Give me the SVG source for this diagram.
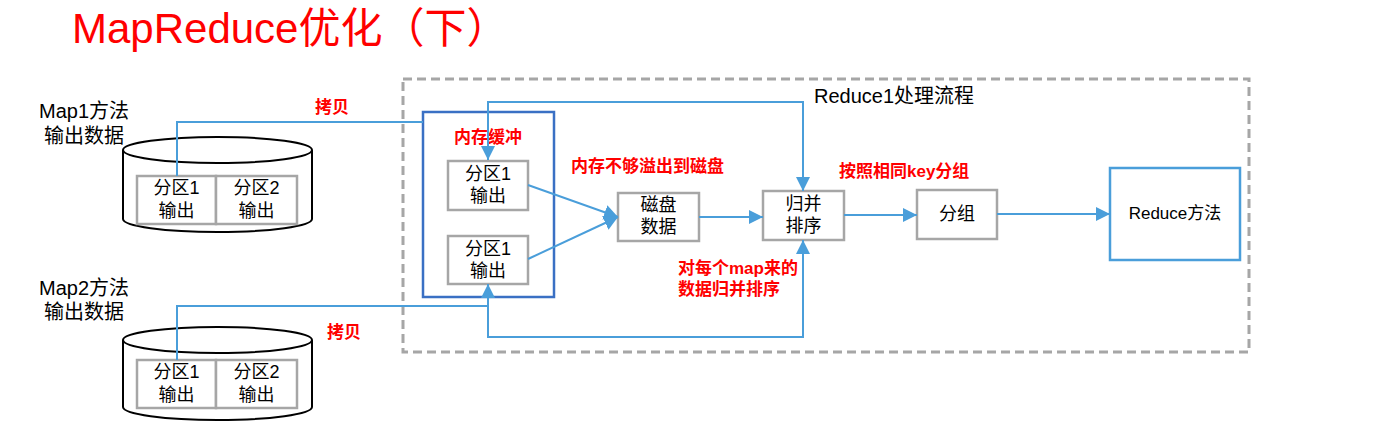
<svg xmlns="http://www.w3.org/2000/svg" width="1396" height="442" viewBox="0 0 1396 442">
<style>
text{font-family:"Liberation Sans","Noto Sans CJK SC",sans-serif;fill:#000}
.t{font-size:20px}
.b{font-size:18px;text-anchor:middle}
.r{font-size:17px;font-weight:bold;fill:#FF0000}
.gbox{fill:#fff;stroke:#A6A6A6;stroke-width:2.5}
.cyl{fill:#fff;stroke:#000;stroke-width:2}
.ln{fill:none;stroke:#4A9EDA;stroke-width:2}
</style>
<defs>
<marker id="ah" markerUnits="userSpaceOnUse" markerWidth="14" markerHeight="14" refX="12" refY="6" orient="auto-start-reverse" viewBox="0 0 12 12">
<path d="M0,0 L12,6 L0,12 z" fill="#4A9EDA"/>
</marker>
<marker id="ahb" markerUnits="userSpaceOnUse" markerWidth="16" markerHeight="16" refX="14" refY="8" orient="auto" viewBox="0 0 16 16">
<path d="M0,0.5 L14,8 L0,15.5 z" fill="#4A9EDA"/>
</marker>
</defs>
<rect width="1396" height="442" fill="#fff"/>
<text x="72" y="43" style="font-size:42px;fill:#FF0000">MapReduce优化（下）</text>

<g id="reduce-area">
<rect x="403" y="79" width="846" height="273" fill="none" stroke="#A6A6A6" stroke-width="3" stroke-dasharray="9 5"/>
<text class="t" x="814" y="103">Reduce1处理流程</text>
</g>

<g id="map1">
<text class="t" x="84" y="118" text-anchor="middle">Map1方法</text>
<text class="t" x="84" y="143" text-anchor="middle">输出数据</text>
<path class="cyl" d="M123,150 L123,219 A94.5,13 0 0 0 312,219 L312,150"/>
<ellipse class="cyl" cx="217.5" cy="150" rx="94.5" ry="13"/>
<rect class="gbox" x="137" y="176" width="79" height="48"/>
<rect class="gbox" x="216" y="176" width="81" height="48"/>
<text class="b" x="176.5" y="194">分区1</text>
<text class="b" x="176.5" y="217">输出</text>
<text class="b" x="256.5" y="194">分区2</text>
<text class="b" x="256.5" y="217">输出</text>
</g>

<g id="map2">
<text class="t" x="84" y="295" text-anchor="middle">Map2方法</text>
<text class="t" x="84" y="319" text-anchor="middle">输出数据</text>
<path class="cyl" d="M123,340 L123,407 A94.5,13 0 0 0 312,407 L312,340"/>
<ellipse class="cyl" cx="217.5" cy="340" rx="94.5" ry="13"/>
<rect class="gbox" x="137" y="360" width="79" height="48"/>
<rect class="gbox" x="216" y="360" width="81" height="48"/>
<text class="b" x="176.5" y="378">分区1</text>
<text class="b" x="176.5" y="401">输出</text>
<text class="b" x="256.5" y="378">分区2</text>
<text class="b" x="256.5" y="401">输出</text>
</g>

<g id="buffer">
<rect x="423" y="112" width="131" height="185" fill="none" stroke="#3A70C4" stroke-width="2.5"/>
<text class="r" x="488" y="143" text-anchor="middle">内存缓冲</text>
</g>
<g id="part-a">
<rect class="gbox" x="448" y="161" width="80" height="49"/>
<text class="b" x="488" y="180">分区1</text>
<text class="b" x="488" y="202">输出</text>
</g>
<g id="part-b">
<rect class="gbox" x="448" y="236" width="80" height="48"/>
<text class="b" x="488" y="255">分区1</text>
<text class="b" x="488" y="277">输出</text>
</g>
<g id="disk">
<rect class="gbox" x="618" y="193" width="81" height="48"/>
<text class="b" x="658.5" y="211">磁盘</text>
<text class="b" x="658.5" y="233">数据</text>
</g>
<g id="merge">
<rect class="gbox" x="763" y="191" width="81" height="49"/>
<text class="b" x="803.5" y="210">归并</text>
<text class="b" x="803.5" y="232">排序</text>
</g>
<g id="group">
<rect class="gbox" x="917" y="190" width="80" height="49"/>
<text class="b" x="957" y="220">分组</text>
</g>
<g id="reduce">
<rect x="1110" y="168" width="130" height="92" fill="#fff" stroke="#4A9EDA" stroke-width="2.5"/>
<text x="1175" y="219" text-anchor="middle" style="font-size:17px">Reduce方法</text>
</g>

<g id="connectors">
<path class="ln" d="M177,176 L177,122 L423,122"/>
<path class="ln" d="M488,160 L488,102 L803,102 L803,191" marker-start="url(#ah)" marker-end="url(#ah)"/>
<path class="ln" d="M177,360 L177,306 L488,306"/>
<path class="ln" d="M488,284 L488,337 L803,337 L803,240" marker-start="url(#ah)" marker-end="url(#ah)"/>
<path class="ln" d="M528,185 L618,217" marker-end="url(#ahb)"/>
<path class="ln" d="M528,259 L618,217" marker-end="url(#ahb)"/>
<path class="ln" d="M699,217 L763,217" marker-end="url(#ah)"/>
<path class="ln" d="M844,215 L917,215" marker-end="url(#ah)"/>
<path class="ln" d="M997,214 L1110,214" marker-end="url(#ah)"/>
</g>

<g id="labels">
<text class="r" x="315" y="113">拷贝</text>
<text class="r" x="327" y="338">拷贝</text>
<text class="r" x="571" y="172">内存不够溢出到磁盘</text>
<text class="r" x="678" y="274">对每个map来的</text>
<text class="r" x="678" y="295">数据归并排序</text>
<text class="r" x="839" y="177">按照相同key分组</text>
</g>
</svg>
